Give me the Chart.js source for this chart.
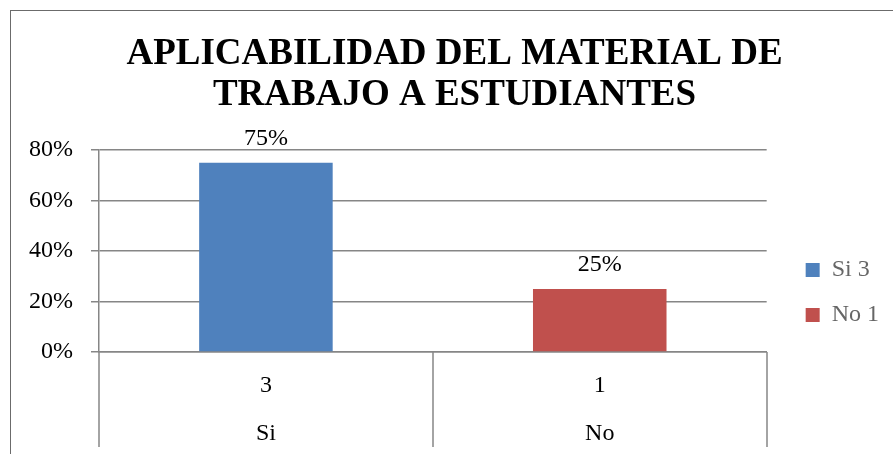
<!DOCTYPE html>
<html>
<head>
<meta charset="utf-8">
<script src="https://cdn.jsdelivr.net/npm/chart.js@4/dist/chart.umd.min.js"></script>
<style>
  html, body { margin: 0; padding: 0; background: #fff; }
  canvas { display: block; }
</style>
</head>
<body>
<canvas id="chart" width="893" height="454"></canvas>
<script>
// data
const categories = ['Si', 'No'];
const counts = [3, 1];
const percents = [75, 25];
const colors = ['#4F81BD', '#C0504D'];
const yTicks = [0, 20, 40, 60, 80];

const SERIF = '"Liberation Serif", "Times New Roman", serif';
const GRID = '#868686';

// outer frame of the chart object (runs off the right/bottom edge)
const framePlugin = {
    id: 'frame',
    beforeDraw(chart) {
        const ctx = chart.ctx;
        ctx.save();
        ctx.fillStyle = '#fff';
        ctx.fillRect(0, 0, chart.width, chart.height);
        ctx.strokeStyle = '#6b6b6b';
        ctx.lineWidth = 1;
        ctx.strokeRect(10.5, 10.5, chart.width + 20, chart.height + 20);
        ctx.restore();
    }
};

// category separators under the plot (Excel style multi-level axis)
const separators = {
    id: 'separators',
    afterDraw(chart) {
        const x = chart.scales.x;
        const ctx = chart.ctx;
        const n = x.ticks.length;
        const step = (x.right - x.left) / n;
        ctx.save();
        ctx.strokeStyle = GRID;
        ctx.lineWidth = 1.5;
        ctx.beginPath();
        for (let i = 0; i <= n; i++) {
            const px = Math.round(x.left + i * step);
            ctx.moveTo(px, x.top);
            ctx.lineTo(px, x.top + 95);
        }
        ctx.stroke();
        ctx.restore();
    }
};

// value labels above the bars
const valueLabels = {
    id: 'valueLabels',
    afterDatasetsDraw(chart) {
        const ctx = chart.ctx;
        const meta = chart.getDatasetMeta(0);
        ctx.save();
        ctx.font = '24px ' + SERIF;
        ctx.fillStyle = '#000';
        ctx.textAlign = 'center';
        ctx.textBaseline = 'alphabetic';
        meta.data.forEach((bar, i) => {
            ctx.fillText(percents[i] + '%', bar.x, bar.y - 18);
        });
        ctx.restore();
    }
};

new Chart(document.getElementById('chart'), {
    type: 'bar',
    data: {
        labels: categories.map((c, i) => [String(counts[i]), c]),
        datasets: [{
            data: percents,
            backgroundColor: colors,
            borderWidth: 0,
            barPercentage: 0.4,
            categoryPercentage: 1
        }]
    },
    options: {
        responsive: false,
        animation: false,
        layout: { padding: { left: 20, right: 4, top: 10, bottom: 0 } },
        plugins: {
            title: {
                display: true,
                text: ['APLICABILIDAD DEL MATERIAL DE', 'TRABAJO A ESTUDIANTES'],
                color: '#000',
                font: { family: SERIF, size: 37, weight: 'bold', lineHeight: 41 / 37 },
                padding: { top: 24, bottom: 34 }
            },
            legend: {
                position: 'right',
                align: 'center',
                title: { display: true, text: '', font: { size: 12, lineHeight: 1 }, padding: { top: 109, bottom: 0 } },
                labels: {
                    color: '#000',
                    font: { family: SERIF, size: 24 },
                    boxWidth: 14,
                    boxHeight: 14,
                    padding: 21,
                    generateLabels: () => categories.map((c, i) => ({
                        text: c + ' ' + counts[i],
                        fillStyle: colors[i],
                        strokeStyle: colors[i],
                        lineWidth: 0,
                        hidden: false,
                        index: i,
                        datasetIndex: 0
                    }))
                }
            },
            tooltip: { enabled: false }
        },
        scales: {
            x: {
                offset: true,
                afterFit: scale => { scale.height = 102; },
                grid: { display: false },
                border: { display: true, color: GRID, width: 1.5 },
                ticks: {
                    color: '#000',
                    padding: 2,
                    font: { family: SERIF, size: 24, lineHeight: 2 }
                }
            },
            y: {
                min: 0,
                max: 80,
                afterBuildTicks: scale => { scale.ticks = yTicks.map(v => ({ value: v })); },
                afterFit: scale => { scale.width = 79; },
                grid: { color: GRID, lineWidth: 1.5, tickLength: 8 },
                border: { display: true, color: GRID, width: 1.5 },
                ticks: {
                    color: '#000',
                    padding: 18,
                    font: { family: SERIF, size: 24 },
                    callback: v => v + '%'
                }
            },
            // empty spacer between plot and legend
            spacer: {
                type: 'linear',
                position: 'right',
                afterFit: scale => { scale.width = 18; },
                grid: { display: false },
                border: { display: false },
                ticks: { display: false }
            }
        }
    },
    plugins: [framePlugin, separators, valueLabels]
});
</script>
</body>
</html>
